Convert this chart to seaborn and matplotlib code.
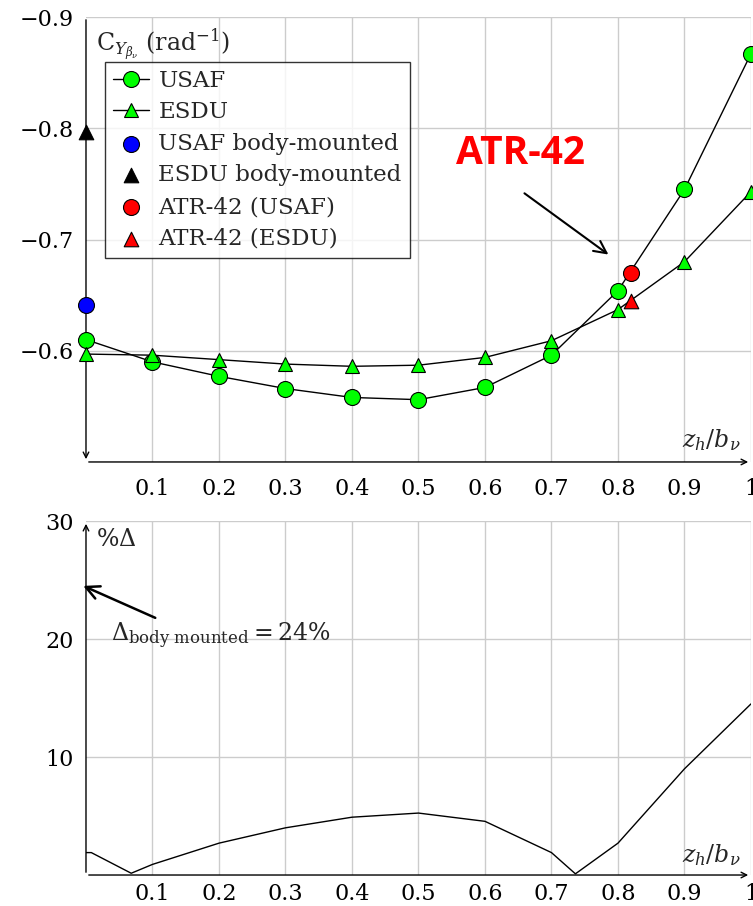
import matplotlib
matplotlib.use("Agg")
import matplotlib.pyplot as plt
import pandas as pd
import seaborn as sns

# top panel: side-force derivative vs z_h/b_v
zh_bv = [0.0, 0.1, 0.2, 0.3, 0.4, 0.5, 0.6, 0.7, 0.8, 0.9, 1.0]
usaf = [-0.610, -0.590, -0.577, -0.566, -0.558, -0.556, -0.567, -0.596, -0.654, -0.745, -0.867]
esdu = [-0.597, -0.596, -0.592, -0.588, -0.586, -0.587, -0.594, -0.609, -0.637, -0.680, -0.743]
usaf_body = -0.641
esdu_body = -0.797
atr_x = 0.82
atr_usaf = -0.670
atr_esdu = -0.645

# bottom panel: percent difference
delta_x = [0.0, 0.008, 0.068, 0.1, 0.2, 0.3, 0.4, 0.5, 0.6, 0.7, 0.736, 0.8, 0.9, 1.0]
delta_pct = [1.9, 1.9, 0.15, 0.9, 2.7, 4.0, 4.9, 5.25, 4.55, 1.9, 0.1, 2.7, 9.0, 14.5]

x_ticks = [0.1, 0.2, 0.3, 0.4, 0.5, 0.6, 0.7, 0.8, 0.9, 1.0]
x_labels = ["0.1", "0.2", "0.3", "0.4", "0.5", "0.6", "0.7", "0.8", "0.9", "1"]

df = pd.DataFrame({"zh": zh_bv, "usaf": usaf, "esdu": esdu})
dd = pd.DataFrame({"zh": delta_x, "pct": delta_pct})

sns.set_style("white")
plt.rcParams["font.family"] = ["DejaVu Serif"]
plt.rcParams["mathtext.fontset"] = "dejavuserif"

fig = plt.figure(figsize=(7.53, 9.06), dpi=100)
ax1 = fig.add_axes([0.1142, 0.4901, 0.8831, 0.4911])
ax2 = fig.add_axes([0.1142, 0.0342, 0.8831, 0.3907])

grid_kw = dict(color="#cccccc", lw=1)

for ax, xpad in ((ax1, 9), (ax2, 3)):
    for s in ax.spines.values():
        s.set_visible(False)
    ax.grid(True, **grid_kw)
    ax.set_xlim(0, 1)
    ax.set_xticks(x_ticks)
    ax.set_xticklabels(x_labels)
    ax.tick_params(labelsize=16, direction="inout", length=5, width=0.8, colors="#333333",
                   labelcolor="black", pad=6)
    ax.tick_params(axis="x", pad=xpad)

# top panel
sns.lineplot(data=df, x="zh", y="usaf", ax=ax1, color="black", lw=1, marker="o", ms=11.5,
             mfc="#00ff00", mec="black", mew=0.8, label="USAF", clip_on=False, zorder=5)
sns.lineplot(data=df, x="zh", y="esdu", ax=ax1, color="black", lw=1, marker="^", ms=10.5,
             mfc="#00ff00", mec="black", mew=0.8, label="ESDU", clip_on=False, zorder=5)
sns.scatterplot(x=[0.0], y=[usaf_body], ax=ax1, color="#0000ff", edgecolor="black", s=132,
                marker="o", label="USAF body-mounted", clip_on=False, zorder=6, linewidth=0.8)
sns.scatterplot(x=[0.0], y=[esdu_body], ax=ax1, color="black", edgecolor="black", s=110,
                marker="^", label="ESDU body-mounted", clip_on=False, zorder=6, linewidth=0.8)
sns.scatterplot(x=[atr_x], y=[atr_usaf], ax=ax1, color="#ff0000", edgecolor="black", s=132,
                marker="o", label="ATR-42 (USAF)", clip_on=False, zorder=6, linewidth=0.8)
sns.scatterplot(x=[atr_x], y=[atr_esdu], ax=ax1, color="#ff0000", edgecolor="black", s=110,
                marker="^", label="ATR-42 (ESDU)", clip_on=False, zorder=6, linewidth=0.8)

ax1.set_ylim(-0.5, -0.9)
ax1.set_yticks([-0.9, -0.8, -0.7, -0.6])
ax1.set_yticklabels(["\u22120.9", "\u22120.8", "\u22120.7", "\u22120.6"])
ax1.set_xlabel("")
ax1.set_ylabel("")

leg = ax1.legend(loc="upper left", bbox_to_anchor=(0.028, 0.9), borderaxespad=0, fontsize=16.5,
                 frameon=True, fancybox=False, edgecolor="black", handlelength=1.6,
                 handletextpad=0.4, labelspacing=0.42, borderpad=0.35)
leg.get_frame().set_linewidth(1)
leg.set_zorder(10)

ax1.annotate("", xy=(0, 0), xytext=(0, 1), xycoords="axes fraction",
             arrowprops=dict(arrowstyle="->", lw=1, color="black"))
ax1.annotate("", xy=(1, 0), xytext=(0, 0), xycoords="axes fraction",
             arrowprops=dict(arrowstyle="->", lw=1, color="black"))
ax1.text(0.015, 0.937, r"$\mathrm{C}_{Y_{\beta_\nu}}$ (rad$^{-1}$)", transform=ax1.transAxes,
         fontsize=17, ha="left", va="center")
ax1.text(0.985, 0.05, r"$z_h/b_\nu$", transform=ax1.transAxes, fontsize=17, ha="right", va="center")

ax1.text(0.654, -0.777, "ATR-42", color="#ff0000", fontsize=28, fontweight="bold",
         family="Open Sans", ha="center", va="center")
ax1.annotate("", xy=(0.789, -0.685), xytext=(0.656, -0.743),
             arrowprops=dict(arrowstyle="->", lw=1.5, color="black", mutation_scale=22))

# bottom panel
sns.lineplot(data=dd, x="zh", y="pct", ax=ax2, color="black", lw=1)
ax2.set_ylim(0, 30)
ax2.set_yticks([10, 20, 30])
ax2.set_yticklabels(["10", "20", "30"])
ax2.set_xlabel("")
ax2.set_ylabel("")

ax2.annotate("", xy=(0, 1), xytext=(0, 0), xycoords="axes fraction",
             arrowprops=dict(arrowstyle="->", lw=1, color="black"))
ax2.annotate("", xy=(1, 0), xytext=(0, 0), xycoords="axes fraction",
             arrowprops=dict(arrowstyle="->", lw=1, color="black"))
ax2.text(0.015, 0.947, r"%$\Delta$", transform=ax2.transAxes, fontsize=17, ha="left", va="center")
ax2.text(0.985, 0.056, r"$z_h/b_\nu$", transform=ax2.transAxes, fontsize=17, ha="right", va="center")

ax2.annotate("", xy=(-0.008, 24.6), xytext=(0.108, 21.7),
             arrowprops=dict(arrowstyle="->", lw=1.8, color="black", mutation_scale=24),
             annotation_clip=False)
ax2.text(0.037, 20.3, r"$\Delta_{\mathrm{body\ mounted}} = 24\%$", fontsize=17,
         ha="left", va="center")

fig.savefig("out.png", dpi=100)
